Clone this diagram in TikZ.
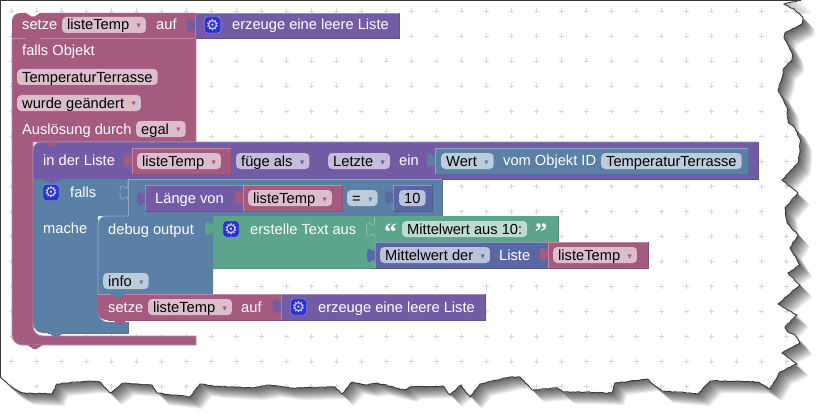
\documentclass[tikz,border=0pt]{standalone}
\usepackage{fontspec}
\setmainfont{Liberation Sans}
\newfontfamily\symfont{DejaVu Sans}
\newfontfamily\quotefont{Liberation Serif}
\usetikzlibrary{decorations.pathmorphing}
\definecolor{varpink}{RGB}{165,91,128}
\definecolor{listpurple}{RGB}{116,91,165}
\definecolor{logicblue}{RGB}{91,128,165}
\definecolor{textgreen}{RGB}{91,165,140}
\definecolor{mathindigo}{RGB}{91,103,165}
\definecolor{iconblue}{RGB}{42,50,212}
\definecolor{griddot}{RGB}{215,215,215}
\definecolor{frameline}{RGB}{55,55,55}
\newcommand{\blockfont}{\fontsize{14.67}{16}\selectfont}
\newcommand{\ddlabel}[2]{#2\hspace{7.5pt}\raisebox{2pt}{\textcolor{#1}{\symfont\fontsize{5.5}{6}\selectfont ▼}}\hspace{3.5pt}}
% torn right and bottom edge of the screenshot
\newcommand{\tornedge}{-- (801,0) -- (784,4) -- (795,10) -- (803,18) -- (802,24) -- (785,33) -- (784,38) -- (788,45) -- (792,53) -- (792,60) -- (784,68) -- (782,78) -- (778,90) -- (787,107) -- (788,122) -- (795,128) -- (800,139) -- (800,150) -- (798,163) -- (782,180) -- (798,193) -- (785,208) -- (787,223) -- (798,235) -- (790,248) -- (800,265) -- (788,273) -- (800,285) -- (778,304) -- (797,315) -- (785,327) -- (788,332) -- (795,335) -- (800,343) -- (782,353) -- (797,364) -- (780,372) -- (770,389) -- (758,382) -- (737,381) -- (710,381) -- (698,394) -- (687,393) -- (662,391) -- (647,379) -- (615,383) -- (612,393) -- (580,392) -- (563,392) -- (558,388) -- (532,390) -- (520,377) -- (510,377) -- (497,380) -- (480,384) -- (470,397) -- (461,385) -- (450,395) -- (443,386) -- (410,387) -- (405,390) -- (377,383) -- (367,385) -- (352,382) -- (342,394) -- (335,387) -- (290,388) -- (270,385) -- (252,388) -- (213,386) -- (200,384) -- (190,397) -- (157,393) -- (152,385) -- (123,383) -- (110,393) -- (100,382) -- (90,381) -- (57,384) -- (52,394) -- (23,393) -- (13,388) -- (7,383) -- (0,377)}
\newcommand{\blockrect}[5]{
  \fill[#1] (#2,#3) rectangle (#4,#5);
  \draw[#1!70!white, line width=0.7pt] (#2,#5) -- (#2,#3) -- (#4,#3);
  \draw[#1!88!black, line width=0.7pt] (#4,#3) -- (#4,#5) -- (#2,#5);
}
\newcommand{\puzzletab}[3]{
  \fill[#1, shift={(#2,#3)}] (0,5) .. controls (0,15) and (-8,-3) .. (-8,12.5) .. controls (-8,28) and (0,10) .. (0,20);
}
\newcommand{\puzzleline}[3]{
  \draw[#1!65!white, line width=0.6pt, shift={(#2,#3)}] (0,0) -- (0,5) .. controls (0,15) and (-8,-3) .. (-8,12.5) .. controls (-8,28) and (0,10) .. (0,20);
}
\newcommand{\blocknotch}[3]{
  \fill[#1] (#2-7.5,#3) -- (#2-1.5,#3+4) -- (#2+1.5,#3+4) -- (#2+7.5,#3) -- cycle;
}
\tikzset{
  blocktext/.style={anchor=west, text=white, font=\blockfont, inner sep=0pt, text height=11.5pt, text depth=1.5pt},
  fieldbase/.style={anchor=west, text=black, font=\blockfont, rounded corners=4pt, inner xsep=5pt, inner ysep=1.5pt,
    text height=11.5pt, text depth=1.5pt, minimum height=16pt},
  pinkfield/.style={fieldbase, fill=varpink!40!white},
  purplefield/.style={fieldbase, fill=listpurple!40!white},
  bluefield/.style={fieldbase, fill=logicblue!40!white},
  greenfield/.style={fieldbase, fill=textgreen!40!white},
  indigofield/.style={fieldbase, fill=mathindigo!40!white},
  gearicon/.style={fill=iconblue, draw=white!55!iconblue, rounded corners=3pt, minimum size=16pt, inner sep=0pt,
    text=white!80!iconblue, font=\symfont\fontsize{15}{15}\selectfont},
  quotemark/.style={anchor=base, text=white, inner sep=0pt, font=\quotefont\bfseries\fontsize{25}{25}\selectfont},
  tornline/.style={draw=frameline, line width=0.9pt, decorate, decoration={random steps, segment length=2.5pt, amplitude=0.5pt}}
}
\begin{document}
\begin{tikzpicture}[x=1pt, y=-1pt]
  \useasboundingbox (0,0) rectangle (825,420);
  % paper with shadow
  \foreach \s in {1,...,12}
    \fill[black, opacity=0.07, shift={(\s,\s)}] (0,0) \tornedge -- cycle;
  \fill[white] (0,0) \tornedge -- cycle;
  \begin{scope}
    \clip (0,0) \tornedge -- cycle;
    \foreach \gx in {0,...,31}
      \foreach \gy in {0,...,15}
        \draw[griddot, line width=0.7pt] (11+25*\gx-2.5,11+25*\gy) -- ++(5,0) (11+25*\gx,11+25*\gy-2.5) -- ++(0,5);
  \end{scope}
  \draw[tornline] (801,0) \tornedge;
  \draw[frameline, line width=2pt] (801,0) -- (0,0) -- (0,377);

  % event block
  \filldraw[fill=varpink, draw=varpink!70!white, line width=0.7pt] (12,38) -- (196,38) -- (196,142) -- (33,142)
    [rounded corners=10pt] -- (33,336) [sharp corners] -- (196,336) -- (196,345)
    [rounded corners=10pt] -- (12,345) [sharp corners] -- cycle;
  \blocknotch{varpink}{35}{345}
  \fill[varpink] (12,38) [rounded corners=8pt] -- (12,13) [sharp corners] -- (195,13) -- (195,38) -- cycle;
  \draw[varpink!70!white, line width=0.7pt] (12,38) -- (196,38);
  \blocknotch{white}{33}{12.5}
  \blocknotch{varpink}{33}{38}
  \blockrect{listpurple}{195}{13}{399}{38}
  \puzzletab{listpurple}{195}{13}
  \node[blocktext] (setzeA) at (22,25) {setze};
  \node[pinkfield] (listeTempA) at (62,25) {\ddlabel{varpink}{listeTemp}};
  \node[blocktext] (aufA) at (156,25) {auf};
  \node[gearicon] (gearA) at (212.5,25) {⚙};
  \node[blocktext] (leerA) at (232,25) {erzeuge eine leere Liste};
  \node[blocktext] (fallsObjekt) at (22,51) {falls Objekt};
  \node[pinkfield] (objektName) at (17,77) {TemperaturTerrasse};
  \node[pinkfield] (geaendert) at (17,103) {\ddlabel{varpink}{wurde geändert}};
  \node[blocktext] (ausloesung) at (22,129) {Auslösung durch};
  \node[pinkfield] (egal) at (136,129) {\ddlabel{varpink}{egal}};

  % in der Liste
  \fill[listpurple] (33,179) [rounded corners=8pt] -- (33,142) [sharp corners] -- (758,142) -- (758,179) -- cycle;
  \draw[listpurple!88!black, line width=0.7pt] (758,142) -- (758,179) -- (33,179);
  \draw[listpurple!70!white, line width=0.7pt] (33,179) [rounded corners=8pt] -- (33,142) [sharp corners] -- (758,142);
  \blocknotch{varpink}{52}{142}
  \blockrect{varpink}{132}{148}{231}{174}
  \puzzletab{varpink}{132}{148}
  \blockrect{logicblue}{435}{148}{748}{174}
  \puzzletab{logicblue}{435}{148}
  \node[blocktext] (inListe) at (43,160) {in der Liste};
  \node[pinkfield] (listeTempB) at (137,161) {\ddlabel{varpink}{listeTemp}};
  \node[purplefield] (fuegeAls) at (236,161) {\ddlabel{listpurple}{füge als}};
  \node[purplefield] (letzte) at (328,161) {\ddlabel{listpurple}{Letzte}};
  \node[blocktext] (einText) at (399,160) {ein};
  \node[bluefield] (wert) at (441,161) {\ddlabel{logicblue}{Wert}};
  \node[blocktext] (vomObjekt) at (503,160) {vom Objekt ID};
  \node[bluefield] (objektId) at (601,161) {TemperaturTerrasse};

  % falls / mache
  \fill[logicblue] (33,179) -- (128,179) -- (128,216) -- (98,216)
    [rounded corners=10pt] -- (98,322) [sharp corners] -- (128,322) -- (128,333)
    [rounded corners=10pt] -- (33,333) [sharp corners] -- cycle;
  \draw[logicblue!88!black, line width=0.7pt] (128,322) -- (128,333) -- (48,333);
  \blocknotch{logicblue}{56}{333}
  \blocknotch{listpurple}{52}{179}
  \blockrect{logicblue}{128}{179}{442}{216}
  \puzzleline{logicblue}{128}{180}
  \blockrect{listpurple}{145}{185}{243}{211}
  \puzzletab{listpurple}{145}{186}
  \blockrect{varpink}{243}{185}{342}{211}
  \puzzletab{varpink}{243}{185}
  \blockrect{mathindigo}{393}{185}{432}{211}
  \puzzletab{mathindigo}{393}{185}
  \node[gearicon] (gearB) at (51,192.5) {⚙};
  \node[blocktext] (fallsText) at (70,192) {falls};
  \node[blocktext] (laengeVon) at (155,198) {Länge von};
  \node[pinkfield] (listeTempC) at (248,198) {\ddlabel{varpink}{listeTemp}};
  \node[bluefield] (gleich) at (347,198) {\ddlabel{logicblue}{=}};
  \node[indigofield] (zehn) at (399,198) {10};
  \node[blocktext] (macheText) at (43,228) {mache};

  % debug output
  \fill[textgreen] (213,216) -- (558,216) -- (558,242) -- (375,242) -- (375,268) -- (213,268) -- cycle;
  \draw[textgreen!88!black, line width=0.7pt] (558,216) -- (558,242) (375,268) -- (213,268);
  \puzzleline{textgreen}{374.5}{217}
  \fill[logicblue] (98,294) [rounded corners=8pt] -- (98,216) [sharp corners] -- (213,216) -- (213,294) -- cycle;
  \draw[logicblue!65!white, line width=0.7pt] (98,294) [rounded corners=8pt] -- (98,216) [sharp corners] -- (128,216);
  \puzzletab{textgreen}{213}{216}
  \blockrect{mathindigo}{375}{242}{548}{268}
  \puzzletab{mathindigo}{375}{243}
  \blockrect{varpink}{548}{242}{648}{268}
  \puzzletab{varpink}{548}{242}
  \node[blocktext] (debugOutput) at (108,229) {debug output};
  \node[gearicon] (gearC) at (231,229) {⚙};
  \node[blocktext] (erstelleText) at (250,229) {erstelle Text aus};
  \node[quotemark] (quoteOpen) at (390.5,240) {“};
  \node[greenfield] (mittelwertText) at (402,229) {Mittelwert aus 10:};
  \node[quotemark] (quoteClose) at (541,240) {”};
  \node[indigofield] (mittelwertDer) at (380,255) {\ddlabel{mathindigo}{Mittelwert der}};
  \node[blocktext] (listeText) at (499,255) {Liste};
  \node[pinkfield] (listeTempD) at (553,255) {\ddlabel{varpink}{listeTemp}};
  \node[bluefield] (infoLevel) at (103,281) {\ddlabel{logicblue}{info}};

  % setze at the end
  \fill[varpink] (98,294) -- (281,294) -- (281,320) [rounded corners=8pt] -- (98,320) [sharp corners] -- cycle;
  \draw[varpink!70!white, line width=0.7pt] (98,294) -- (281,294);
  \draw[varpink!88!black, line width=0.7pt] (108,320) -- (281,320);
  \blocknotch{logicblue}{118}{294}
  \blocknotch{varpink}{120}{320}
  \blockrect{listpurple}{281}{294}{485}{320}
  \puzzletab{listpurple}{281}{294}
  \node[blocktext] (setzeB) at (108,307) {setze};
  \node[pinkfield] (listeTempE) at (148,307) {\ddlabel{varpink}{listeTemp}};
  \node[blocktext] (aufB) at (241,307) {auf};
  \node[gearicon] (gearD) at (298.5,307) {⚙};
  \node[blocktext] (leerB) at (318,307) {erzeuge eine leere Liste};
\end{tikzpicture}
\end{document}
